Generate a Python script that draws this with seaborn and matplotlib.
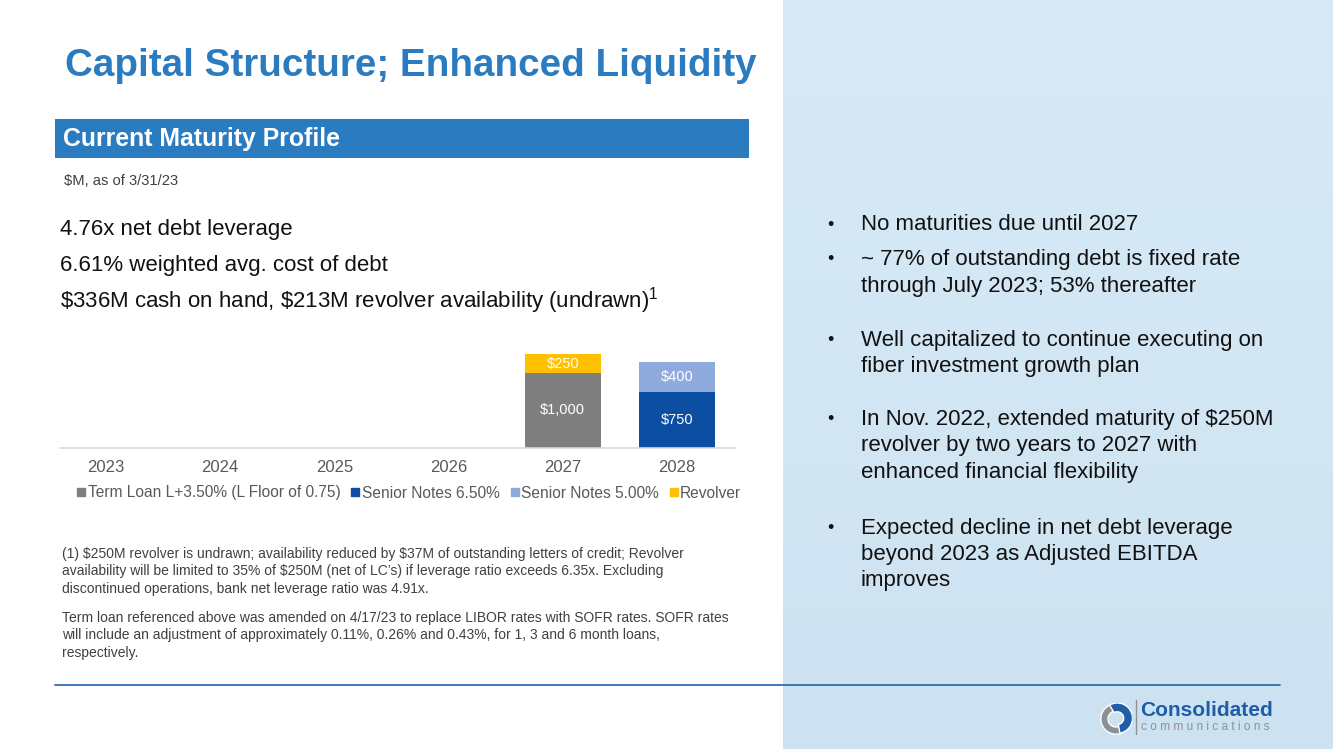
import numpy as np
import pandas as pd
import matplotlib
matplotlib.use("Agg")
import matplotlib.pyplot as plt
from matplotlib.lines import Line2D
from matplotlib.patches import Rectangle, Wedge
from matplotlib.colors import LinearSegmentedColormap
import seaborn as sns

# ---------------- data ----------------
years = ["2023", "2024", "2025", "2026", "2027", "2028"]
term_loan = [0, 0, 0, 0, 1000, 0]
senior_650 = [0, 0, 0, 0, 0, 750]
senior_500 = [0, 0, 0, 0, 0, 400]
revolver = [0, 0, 0, 0, 250, 0]
series_names = ["Term Loan L+3.50% (L Floor of 0.75)", "Senior Notes 6.50%",
                "Senior Notes 5.00%", "Revolver"]
series_colors = ["#7F7F7F", "#0B4EA2", "#8FAADC", "#FFC000"]

title = "Capital Structure; Enhanced Liquidity"
section = "Current Maturity Profile"
units = r"\$M, as of 3/31/23"
stats = ["4.76x net debt leverage", "6.61% weighted avg. cost of debt",
         r"\$336M cash on hand, \$213M revolver availability (undrawn)$^{1}$"]
bullets = [
    ["No maturities due until 2027"],
    ["~ 77% of outstanding debt is fixed rate", "through July 2023; 53% thereafter"],
    ["Well capitalized to continue executing on", "fiber investment growth plan"],
    [r"In Nov. 2022, extended maturity of \$250M", "revolver by two years to 2027 with",
     "enhanced financial flexibility"],
    ["Expected decline in net debt leverage", "beyond 2023 as Adjusted EBITDA", "improves"],
]
foot1 = [r"(1) \$250M revolver is undrawn; availability reduced by \$37M of outstanding letters of credit; Revolver",
         r"availability will be limited to 35% of \$250M (net of LC\u2019s) if leverage ratio exceeds 6.35x. Excluding".replace("\\u2019", "\u2019"),
         "discontinued operations, bank net leverage ratio was 4.91x."]
foot2 = ["Term loan referenced above was amended on 4/17/23 to replace LIBOR rates with SOFR rates. SOFR rates",
         "will include an adjustment of approximately 0.11%, 0.26% and 0.43%, for 1, 3 and 6 month loans,",
         "respectively."]

# ---------------- setup ----------------
sns.set_theme(style="white")
plt.rcParams["font.family"] = ["Liberation Sans", "DejaVu Sans"]
plt.rcParams["mathtext.fontset"] = "custom"
plt.rcParams["mathtext.rm"] = "Liberation Sans"
plt.rcParams["mathtext.it"] = "Liberation Sans"
plt.rcParams["mathtext.default"] = "regular"

W, H = 1333, 749
fig = plt.figure(figsize=(W / 100, H / 100), dpi=100)
fig.patch.set_facecolor("white")


def px(x, y):
    return x / W, 1 - y / H


# right light-blue panel with soft vertical gradient
bg_ax = fig.add_axes([783 / W, 0, (W - 783) / W, 1], zorder=0)
grad = np.linspace(0, 1, 256).reshape(-1, 1)
cmap = LinearSegmentedColormap.from_list("bg", ["#d8eaf6", "#cde2f1"])
bg_ax.imshow(grad, aspect="auto", cmap=cmap, extent=[0, 1, 0, 1])
bg_ax.set_axis_off()

# ---------------- chart ----------------
df = pd.DataFrame({"year": years, "term": term_loan, "s650": senior_650,
                   "s500": senior_500, "rev": revolver})
df["c1"] = df["term"]
df["c2"] = df["c1"] + df["s650"]
df["c3"] = df["c2"] + df["s500"]
df["c4"] = df["c3"] + df["rev"]

ax = fig.add_axes([60 / W, (H - 448) / H, 675 / W, 103 / H], zorder=2)
ax.patch.set_alpha(0)
bar_w = 0.665
for col, color in zip(["c4", "c3", "c2", "c1"], series_colors[::-1]):
    sns.barplot(data=df, x="year", y=col, order=years, color=color, width=bar_w,
                linewidth=0, saturation=1, ax=ax, errorbar=None)

# segment labels
segs = [("term", "c1"), ("s650", "c2"), ("s500", "c3"), ("rev", "c4")]
for i in range(len(years)):
    for val_col, top_col in segs:
        v = df.loc[i, val_col]
        if v > 0:
            top = df.loc[i, top_col]
            ax.text(i, top - v / 2, f"\\${v:,.0f}", ha="center", va="center",
                    color="white", fontsize=10.5)

ax.set_xlim(-0.403, 5.508)
ax.set_ylim(0, 1373)
ax.set_xlabel("")
ax.set_ylabel("")
ax.set_yticks([])
for s in ["top", "left", "right"]:
    ax.spines[s].set_visible(False)
ax.spines["bottom"].set_color("#D9D9D9")
ax.spines["bottom"].set_linewidth(1.2)
ax.tick_params(axis="x", length=0, pad=9, labelsize=12, labelcolor="#595959")

handles = [Line2D([0], [0], marker="s", linestyle="none", markersize=6,
                  markerfacecolor=c, markeredgecolor=c) for c in series_colors]
fig.legend(handles, series_names, loc="center", bbox_to_anchor=px(409, 493),
           ncol=4, frameon=False, fontsize=11.2, handlelength=0.6,
           handletextpad=0.12, columnspacing=0.65, labelcolor="#595959",
           borderaxespad=0, borderpad=0)

# ---------------- text ----------------
blue = "#2A7BC0"
fig.text(*px(65, 66), title, fontsize=27.8, fontweight="bold", color=blue,
         ha="left", va="center")

fig.patches.append(Rectangle(px(55, 158), 694 / W, 39 / H, transform=fig.transFigure,
                             facecolor="#2A7BC0", edgecolor="none", zorder=1))
fig.text(*px(63, 139), section, fontsize=17.9, fontweight="bold", color="white",
         ha="left", va="center")
fig.text(*px(64, 181), units, fontsize=10.6, color="#404040", ha="left", va="center")

for k, s in enumerate(stats):
    fig.text(*px(60, 229 + 36 * k), s, fontsize=16, color="#111111", ha="left", va="center")

for k, s in enumerate(foot1):
    fig.text(*px(62, 554 + 17.5 * k), s, fontsize=10, color="#404040", ha="left",
             va="center")
for k, s in enumerate(foot2):
    fig.text(*px(62, 618 + 17.5 * k), s, fontsize=10, color="#404040", ha="left",
             va="center")

# bullets
y = 225
gaps = [35, 54, 53, 56]
for k, lines in enumerate(bullets):
    fig.text(*px(827, y), "\u2022", fontsize=13, color="#111111", ha="left",
             va="center", zorder=5)
    for j, line in enumerate(lines):
        fig.text(*px(861, y + 26.3 * j), line, fontsize=16, color="#111111",
                 ha="left", va="center", zorder=5)
    if k < len(gaps):
        y += gaps[k] + 26.3 * (len(lines) - 1)

# bottom rule
fig.add_artist(Line2D([55 / W, 1280 / W], [1 - 685 / H, 1 - 685 / H],
                      transform=fig.transFigure, color="#2E6DB4", linewidth=1.3,
                      zorder=6))

# logo
logo_ax = fig.add_axes([1100 / W, 1 - 735 / H, 32 / W, 32 / H], zorder=6)
logo_ax.set_xlim(-1, 1)
logo_ax.set_ylim(-1, 1)
logo_ax.set_aspect("equal")
logo_ax.set_axis_off()
logo_ax.add_patch(Wedge((0, 0), 0.95, 90, 290, width=0.45, facecolor="#8C9196"))
logo_ax.add_patch(Wedge((0.08, 0.05), 0.95, -80, 120, width=0.55, facecolor="#1F5DA8"))
fig.add_artist(Line2D([1136 / W, 1136 / W], [1 - 700 / H, 1 - 734 / H],
                      transform=fig.transFigure, color="#8C9196", linewidth=1, zorder=6))
fig.text(*px(1140, 711), "Consolidated", fontsize=15, fontweight="bold",
         color="#1F5DA8", ha="left", va="center", zorder=6)
fig.text(*px(1141, 727), "c o m m u n i c a t i o n s", fontsize=8.6, color="#8C9196",
         ha="left", va="center", zorder=6)

fig.savefig("out.png", dpi=100)
